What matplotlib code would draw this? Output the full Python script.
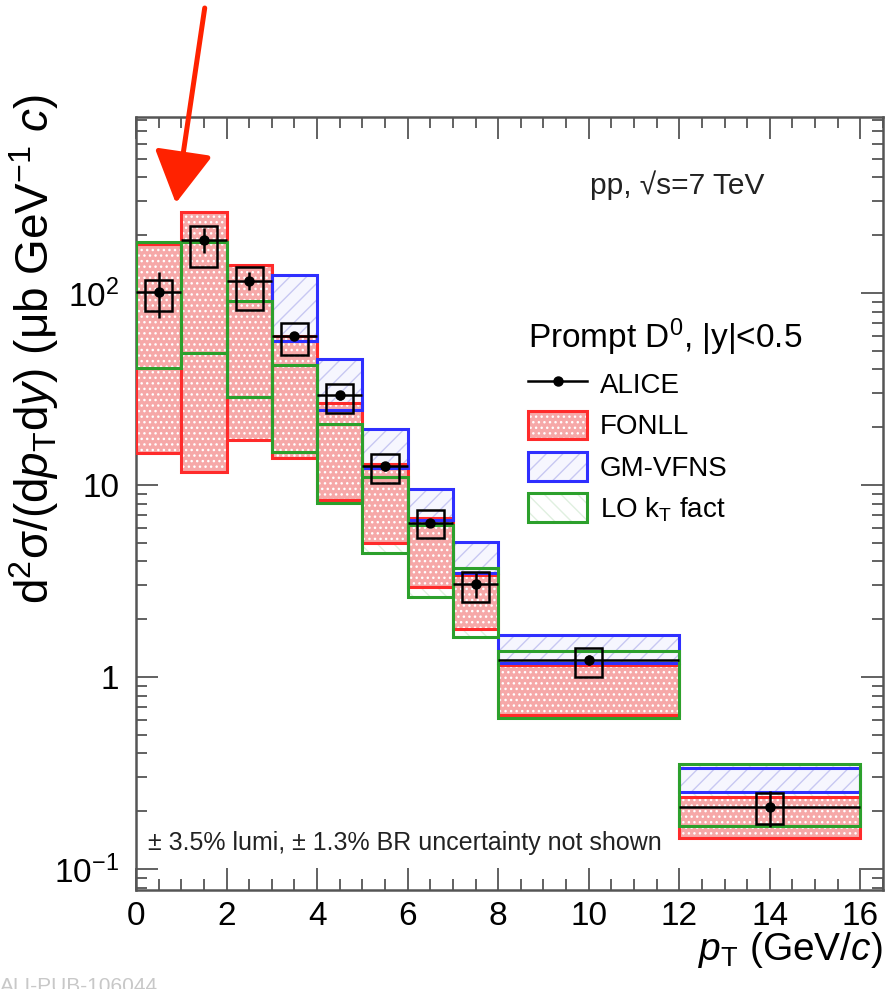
import numpy as np
import matplotlib
matplotlib.use('Agg')
import matplotlib.pyplot as plt
from matplotlib.patches import Patch
from matplotlib.lines import Line2D
from matplotlib.ticker import LogLocator, MultipleLocator, NullFormatter

plt.rcParams['font.family'] = ['Liberation Sans', 'DejaVu Sans']
plt.rcParams['mathtext.fontset'] = 'custom'
plt.rcParams['mathtext.rm'] = 'Liberation Sans'
plt.rcParams['mathtext.it'] = 'Liberation Sans:italic'
plt.rcParams['mathtext.bf'] = 'Liberation Sans:bold'
plt.rcParams['hatch.linewidth'] = 1.0

# bins en pT (GeV/c)
pt_lo = np.array([0, 1, 2, 3, 4, 5, 6, 7, 8, 12])
pt_hi = np.array([1, 2, 3, 4, 5, 6, 7, 8, 12, 16])

# ALICE, D0 prompt: valor central, error estadistico y cajas sistematicas
alice = np.array([101, 189, 116, 59.7, 29.4, 12.5, 6.37, 3.04, 1.23, 0.211])
alice_stat = np.array([27, 28, 12, 3.0, 1.5, 0.6, 0.3, 0.45, 0.08, 0.045])
sys_lo = np.array([80.9, 136, 81.6, 47.6, 23.6, 10.2, 5.28, 2.47, 1.0, 0.171])
sys_hi = np.array([117, 223, 136, 69.5, 33.6, 14.6, 7.4, 3.53, 1.41, 0.249])

# FONLL (banda completa)
fonll_lo = np.array([14.7, 11.7, 17.1, 13.8, 8.4, 4.97, 2.95, 1.77, 0.634, 0.145])
fonll_hi = np.array([180, 265, 140, 60, 26.8, 12.9, 6.7, 3.4, 1.15, 0.238])

# GM-VFNS solo a partir de 3 GeV/c
gm_first = 3
gm_lo = np.array([56, 24.7, 12.3, 6.6, 3.5, 1.19, 0.253])
gm_hi = np.array([124, 45.1, 19.5, 9.5, 5.07, 1.66, 0.335])

# LO kT factorization
lokt_lo = np.array([40.8, 48.7, 28.8, 14.9, 8.03, 4.44, 2.6, 1.62, 0.615, 0.167])
lokt_hi = np.array([185, 185, 91, 42, 20.8, 11.0, 6.2, 3.68, 1.36, 0.352])

y_ticks = [0.1, 1, 10, 100]
y_ticklabels = ['$10^{-1}$', '1', '10', '$10^{2}$']

pink = '#f6a8a8'
red = '#ff2b2b'
blue = '#2f2fff'
blue_hatch = '#c8c8f2'
green = '#2ca02c'
green_hatch = '#e0f0e0'
frame = '#555555'

fig = plt.figure(figsize=(8.86, 9.89), dpi=100)
ax = fig.add_axes([136/886, 99/989, 747/886, 773/989])

width = pt_hi - pt_lo
gm_left = pt_lo[gm_first:]
gm_width = width[gm_first:]

# rellenos
ax.bar(pt_lo, lokt_hi - lokt_lo, width=width, bottom=lokt_lo, align='edge',
       facecolor='none', edgecolor=green_hatch, hatch='\\\\', linewidth=0, zorder=1)
ax.bar(gm_left, gm_hi - gm_lo, width=gm_width, bottom=gm_lo, align='edge',
       facecolor='#f6f6fe', edgecolor=blue_hatch, hatch='//', linewidth=0, zorder=1.5)
ax.bar(pt_lo, fonll_hi - fonll_lo, width=width, bottom=fonll_lo, align='edge',
       facecolor=pink, edgecolor='white', hatch='...', linewidth=0, zorder=2)

# bordes
ax.bar(pt_lo, fonll_hi - fonll_lo, width=width, bottom=fonll_lo, align='edge',
       fill=False, edgecolor=red, linewidth=2.2, zorder=3)
ax.bar(gm_left, gm_hi - gm_lo, width=gm_width, bottom=gm_lo, align='edge',
       fill=False, edgecolor=blue, linewidth=2.2, zorder=3.2)
ax.bar(pt_lo, lokt_hi - lokt_lo, width=width, bottom=lokt_lo, align='edge',
       fill=False, edgecolor=green, linewidth=2.2, zorder=3.4)

# datos ALICE
pt_c = 0.5 * (pt_lo + pt_hi)
ax.bar(pt_c, sys_hi - sys_lo, width=0.6, bottom=sys_lo, align='center',
       fill=False, edgecolor='black', linewidth=1.8, zorder=5)
ax.errorbar(pt_c, alice, xerr=width / 2, yerr=alice_stat, fmt='o', color='black',
            ms=6.5, elinewidth=1.8, capsize=0, zorder=6)

ax.set_yscale('log')
ax.set_xlim(0, 16.5)
ax.set_ylim(0.0778, 826)

ax.xaxis.set_major_locator(MultipleLocator(2))
ax.xaxis.set_minor_locator(MultipleLocator(0.5))
ax.set_yticks(y_ticks)
ax.set_yticklabels(y_ticklabels)
ax.yaxis.set_minor_locator(LogLocator(base=10, subs=np.arange(2, 10)))
ax.yaxis.set_minor_formatter(NullFormatter())

ax.tick_params(which='both', direction='in', top=True, right=True, color=frame)
ax.tick_params(which='major', length=16, width=1.3)
ax.tick_params(which='minor', length=8, width=1.3)
ax.tick_params(axis='x', which='major', labelsize=24, pad=8)
ax.tick_params(axis='y', which='major', labelsize=24, pad=12)
for s in ax.spines.values():
    s.set_color(frame)
    s.set_linewidth(1.8)

ax.set_xlabel('$p_{\\rm T}$ (GeV/$c$)', fontsize=28, loc='right')
ax.xaxis.set_label_coords(1.0, -0.052)
ax.set_ylabel('d$^{2}$σ/(d$p_{\\rm T}$d$y$) (μb GeV$^{-1}$ $c$)', fontsize=33, loc='top')
ax.yaxis.set_label_coords(-0.1, 1.03)

ax.text(0.608, 0.912, 'pp, √s=7 TeV', transform=ax.transAxes, fontsize=21.5,
        ha='left', va='center', color='#222222')
ax.text(0.016, 0.061, '± 3.5% lumi, ± 1.3% BR uncertainty not shown',
        transform=ax.transAxes, fontsize=18, ha='left', va='center', color='#222222')

handles = [
    Line2D([], [], color='black', lw=1.8, marker='o', ms=6.5),
    (Patch(facecolor=pink, edgecolor='white', hatch='...', lw=0),
     Patch(facecolor='none', edgecolor=red, lw=2.2)),
    (Patch(facecolor='#f6f6fe', edgecolor=blue_hatch, hatch='//', lw=0),
     Patch(facecolor='none', edgecolor=blue, lw=2.2)),
    (Patch(facecolor='none', edgecolor=green_hatch, hatch='\\\\', lw=0),
     Patch(facecolor='none', edgecolor=green, lw=2.2)),
]
labels = ['ALICE', 'FONLL', 'GM-VFNS', 'LO k$_{\\rm T}$ fact']
leg = ax.legend(handles, labels, loc='upper left', bbox_to_anchor=(0.525, 0.742),
                frameon=False, fontsize=20, title='Prompt D$^{0}$, |y|<0.5',
                title_fontsize=24, alignment='left', handlelength=2.12,
                handleheight=1.2, handletextpad=0.47, labelspacing=0.42,
                borderpad=0, borderaxespad=0)

# flecha roja sobre el primer bin
ax.annotate('', xy=(0.88, 294), xycoords='data', xytext=(0.092, 1.141),
            textcoords='axes fraction', annotation_clip=False,
            arrowprops=dict(arrowstyle='-|>,head_length=1.6,head_width=0.9',
                            color='#ff2200', lw=3.6, mutation_scale=20,
                            shrinkA=0, shrinkB=0))

fig.text(0.0, 0.003, 'ALI-PUB-106044', fontsize=15, color='#c8c8c8',
         ha='left', va='center')

fig.savefig('out.png', dpi=100)
